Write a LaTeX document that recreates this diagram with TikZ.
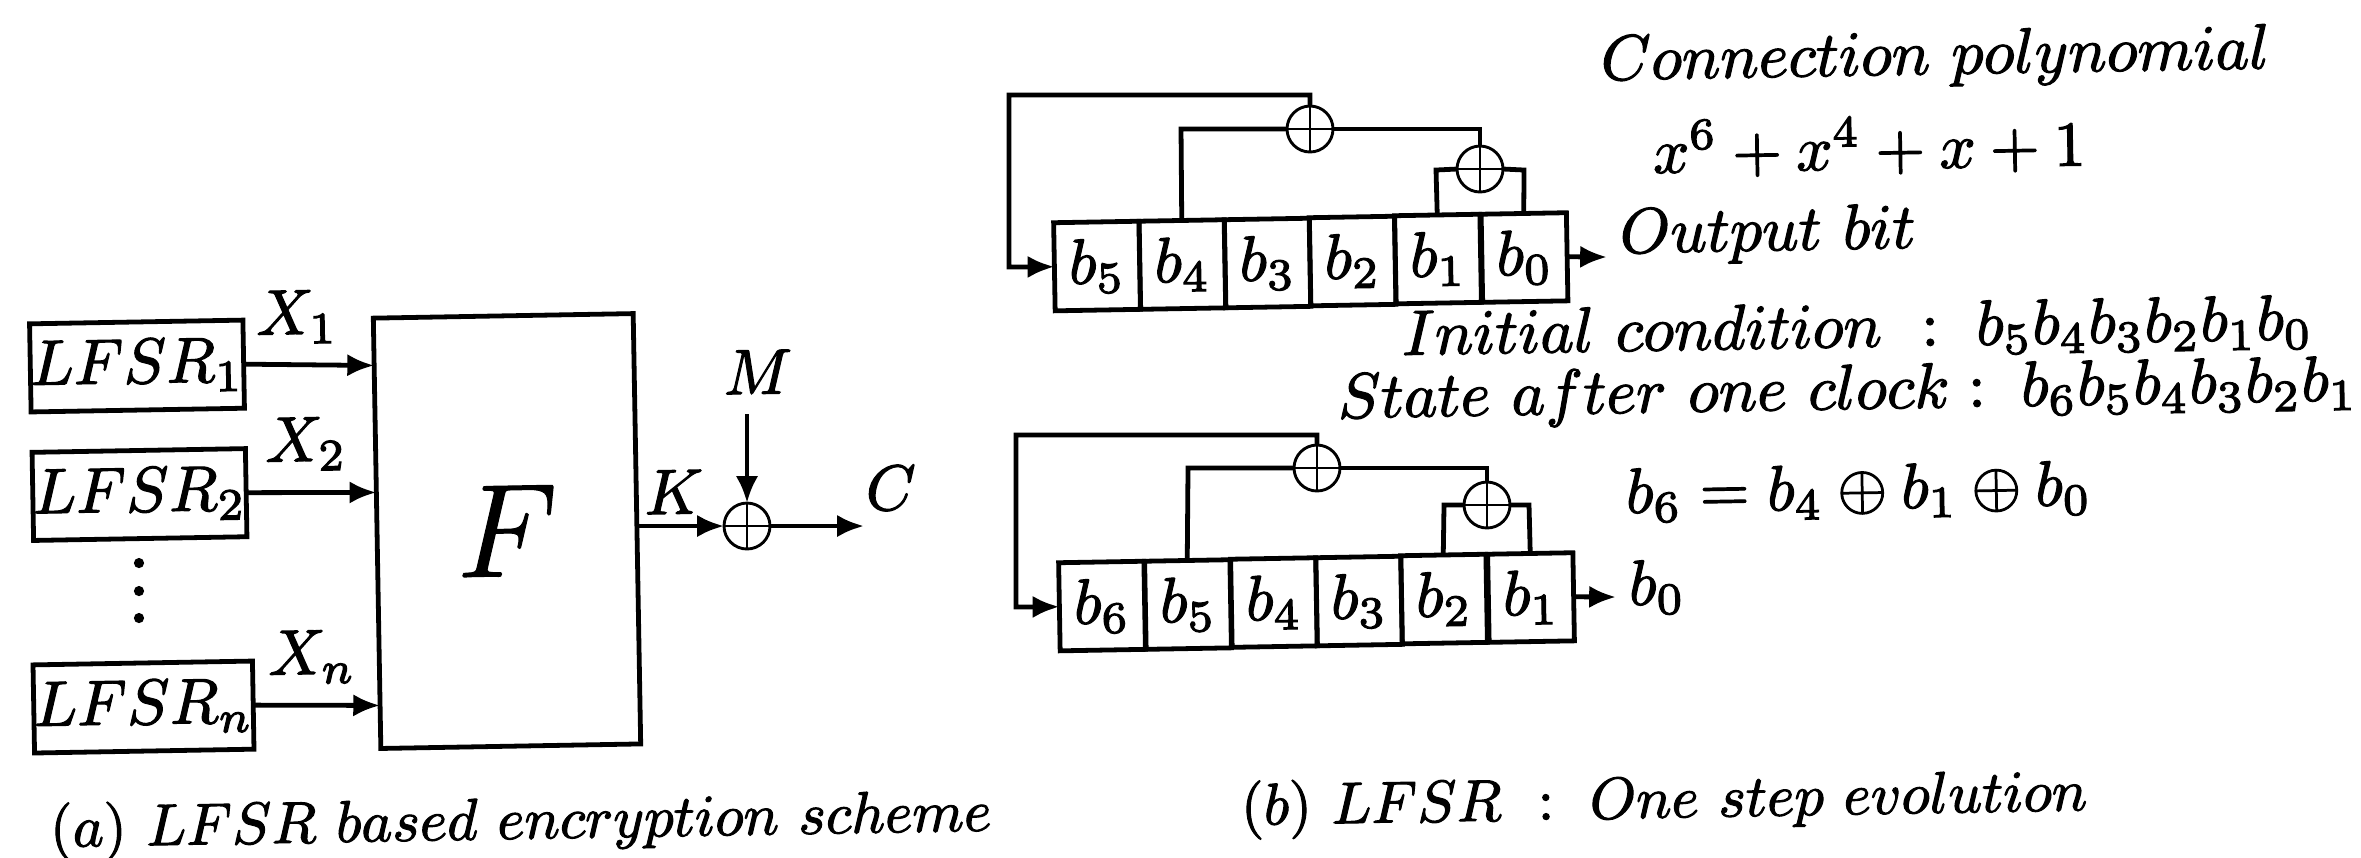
\documentclass[tikz,border=0pt]{standalone}
\usepackage{amssymb}
\usepackage{graphicx}
\usetikzlibrary{arrows.meta,calc}
\tikzset{
  hvy/.style={execute at begin node={\special{pdf:code 2 Tr 0.18 w}},execute at end node={\special{pdf:code 0 Tr}}},
  ink/.style={line width=0.75pt,line join=miter},
  arr/.style={ink,-{Latex[length=4.2pt,width=3.5pt]}},
  blockbox/.style={draw,line width=0.75pt,rotate=1,inner sep=0pt,outer sep=0pt,hvy},
  lfsrbox/.style={blockbox,minimum width=32.5pt,minimum height=13.8pt},
  cellbox/.style={blockbox,minimum width=13.35pt,minimum height=13.8pt},
  fbox/.style={blockbox,minimum width=40.7pt,minimum height=67.4pt},
  dotmark/.style={circle,fill,inner sep=0pt,minimum size=1.6pt},
  xorc/.style={draw,circle,line width=0.45pt,inner sep=0pt,outer sep=0pt,minimum size=7.2pt,
    path picture={\draw[line width=0.45pt]
      (path picture bounding box.north)--(path picture bounding box.south)
      (path picture bounding box.west)--(path picture bounding box.east);}},
  lab/.style={inner sep=0pt,rotate=1,hvy},
  txt/.style={inner sep=0pt,anchor=base west,rotate=1,hvy},
}
\begin{document}
\begin{tikzpicture}[x=0.1566pt,y=-0.1566pt]
\useasboundingbox (0,0) rectangle (2361,857);
% part (a)
\node[lfsrbox] (L1) at (137,366) {$LFSR_1$};
\node[lfsrbox] (L2) at (139.5,494.5) {$LFSR_2$};
\node[lfsrbox] (Ln) at (143.5,707) {$LFSR_n$};
\node[dotmark] (d1) at (139,563) {};
\node[dotmark] (d2) at (139,591) {};
\node[dotmark] (d3) at (139,618) {};
\node[fbox] (F) at (507,531) {\huge$F$};
\node[lab] (X1) at (297,317) {$X_1$};
\node[lab] (X2) at (306,444) {$X_2$};
\node[lab] (Xn) at (312,657) {$X_n$};
\draw[arr] (L1.east) -- ($(F.north west)!0.11!(F.south west)$);
\draw[arr] (L2.east) -- ($(F.north west)!0.405!(F.south west)$);
\draw[arr] (Ln.east) -- ($(F.north west)!0.9!(F.south west)$);
\node[xorc] (xo) at (747,526) {};
\node[lab] (K) at (674,492) {$K$};
\node[lab] (M) at (758,372) {$M$};
\node[lab] (C) at (891,488) {$C$};
\coordinate (mt) at (747,414);
\coordinate (ce) at (864,526);
\draw[arr] (F.east |- xo.west) -- (xo.west);
\draw[arr] (mt) -- (xo.north);
\draw[arr] (xo.east) -- (ce);
\node[txt] (capa) at (49,847) {\scalebox{0.92}{$(a)\ LFSR\ based\ encryption\ scheme$}};
% part (b), upper register
\node[cellbox] (a5) at (1097,266) {$b_5$};
\node[cellbox] (a4) at (1182.5,264.5) {$b_4$};
\node[cellbox] (a3) at (1267.5,263) {$b_3$};
\node[cellbox] (a2) at (1352.5,261) {$b_2$};
\node[cellbox] (a1) at (1438,259) {$b_1$};
\node[cellbox] (a0) at (1524.5,257.5) {$b_0$};
\node[xorc] (ax) at (1310,129) {};
\node[xorc] (ay) at (1480,169) {};
\coordinate (au1) at (1310,95);
\coordinate (au2) at (1009,95);
\coordinate (au3) at (1009,267);
\coordinate (au4) at (1181,129);
\coordinate (au5) at (1480,129);
\coordinate (au6) at (1436,170);
\coordinate (au7) at (1524,170);
\coordinate (aout) at (1607,257);
\draw[arr] (ax.north) -- (au1) -- (au2) -- (au3) -- (a5.west);
\draw[ink] (a4.north) -- (au4) -- (ax.west);
\draw[ink] (ax.east) -- (au5) -- (ay.north);
\draw[ink] (a1.north) -- (au6) -- (ay.west);
\draw[ink] (ay.east) -- (au7) -- (a0.north);
\draw[arr] (a0.east) -- (aout);
% part (b), lower register
\node[cellbox] (c6) at (1102,606) {$b_6$};
\node[cellbox] (c5) at (1188,604.5) {$b_5$};
\node[cellbox] (c4) at (1274,602.5) {$b_4$};
\node[cellbox] (c3) at (1359,601) {$b_3$};
\node[cellbox] (c2) at (1444,599) {$b_2$};
\node[cellbox] (c1) at (1531,597.5) {$b_1$};
\node[xorc] (cx) at (1317,468) {};
\node[xorc] (cy) at (1487,505) {};
\coordinate (cu1) at (1317,435);
\coordinate (cu2) at (1016,435);
\coordinate (cu3) at (1016,607);
\coordinate (cu4) at (1188,468);
\coordinate (cu5) at (1487,468);
\coordinate (cu6) at (1444,505);
\coordinate (cu7) at (1529,505);
\coordinate (cout) at (1616,597);
\draw[arr] (cx.north) -- (cu1) -- (cu2) -- (cu3) -- (c6.west);
\draw[ink] (c5.north) -- (cu4) -- (cx.west);
\draw[ink] (cx.east) -- (cu5) -- (cy.north);
\draw[ink] (c2.north) -- (cu6) -- (cy.west);
\draw[ink] (cy.east) -- (cu7) -- (c1.north);
\draw[arr] (c1.east) -- (cout);
% texts
\node[txt] (t1) at (1600,80) {$Connection\ polynomial$};
\node[txt] (t2) at (1652,173) {$x^6+x^4+x+1$};
\node[txt] (t3) at (1619,253) {$Output\ bit$};
\node[txt] (t4) at (1401,355) {$Initial\ condition\mskip11mu{:}\mskip10.5mu b_5b_4b_3b_2b_1b_0$};
\node[txt] (t5) at (1337,418) {$State\ after\ one\ clock\mskip5mu{:}\mskip10mu b_6b_5b_4b_3b_2b_1$};
\node[txt] (t6) at (1625,513) {$b_6=b_4\oplus b_1\oplus b_0$};
\node[txt] (t7) at (1628,605) {$b_0$};
\node[txt] (capb) at (1240,825) {\scalebox{0.92}{$(b)\ LFSR\ :\ One\ step\ evolution$}};
\end{tikzpicture}
\end{document}
